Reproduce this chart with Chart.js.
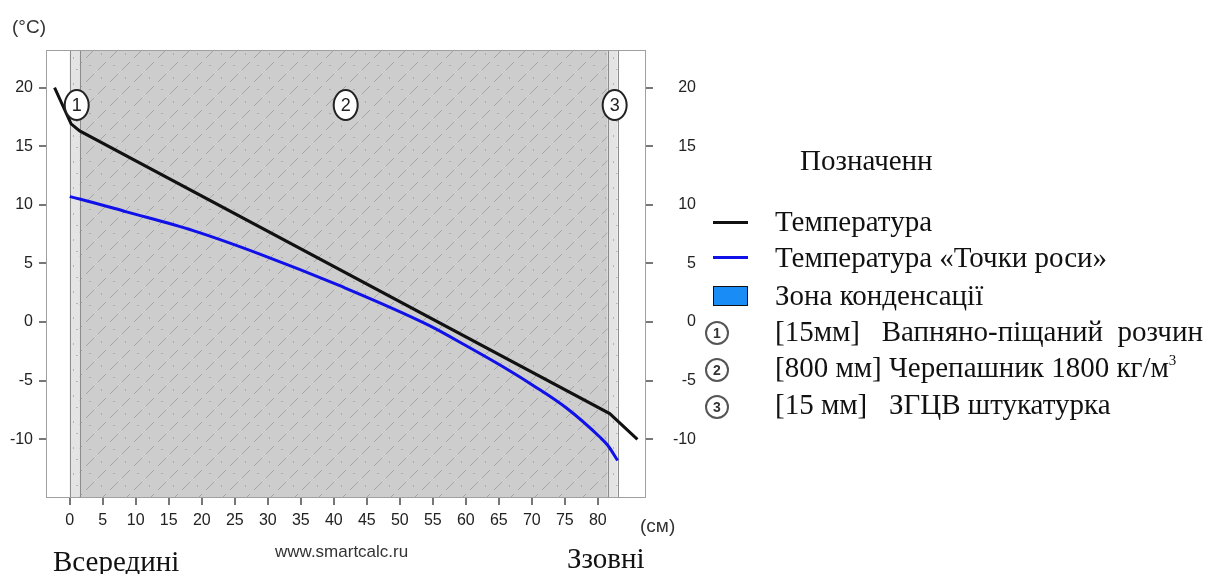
<!DOCTYPE html>
<html>
<head>
<meta charset="utf-8">
<script src="https://cdn.jsdelivr.net/npm/chart.js@4"></script>
<style>
  body { margin: 0; background: #fff; }
  #wrap { position: relative; width: 1217px; height: 574px; overflow: hidden; }
  #chart { position: absolute; left: 0; top: 0; }
  .t { position: absolute; white-space: pre; color: #111; }
  .serif { font-family: "Liberation Serif", "Times New Roman", serif; font-size: 29px; line-height: 30px; }
  .sans { font-family: Arial, "Liberation Sans", sans-serif; color: #333; }
  .sw { position: absolute; }
  .num { position: absolute; width: 20px; height: 20px; border: 2px solid #555; border-radius: 50%;
         font: bold 14px Arial, "Liberation Sans", sans-serif; color: #333; text-align: center; line-height: 20px; background: #fff; }
  sup { font-size: 15px; vertical-align: 12px; line-height: 0; }
</style>
</head>
<body>
<div id="wrap">
  <canvas id="chart" width="1217" height="574" style="width:1217px;height:574px"></canvas>

  <div class="t sans" style="left:12px;top:16px;font-size:19px;line-height:22px">(°C)</div>
  <div class="t sans" style="left:640px;top:515px;font-size:19px;line-height:22px">(см)</div>
  <div class="t sans" style="left:275px;top:542px;font-size:17px;line-height:20px">www.smartcalc.ru</div>
  <div class="t serif" style="left:53px;top:546px">Всередині</div>
  <div class="t serif" style="left:567px;top:543px">Ззовні</div>

  <div class="t serif" style="left:800px;top:145px">Позначенн</div>

  <div class="sw" style="left:713px;top:221px;width:35px;height:3px;background:#111"></div>
  <div class="t serif" style="left:775px;top:206px">Температура</div>
  <div class="sw" style="left:713px;top:256px;width:35px;height:3px;background:#1010e8"></div>
  <div class="t serif" style="left:775px;top:242px">Температура «Точки роси»</div>
  <div class="sw" style="left:713px;top:286px;width:33px;height:18px;background:#1a8cf5;border:1.5px solid #111"></div>
  <div class="t serif" style="left:775px;top:280px">Зона конденсації</div>

  <div class="num" style="left:705px;top:321px">1</div>
  <div class="t serif" style="left:775px;top:316px">[15мм]   Вапняно-піщаний  розчин</div>
  <div class="num" style="left:705px;top:358px">2</div>
  <div class="t serif" style="left:775px;top:352px">[800 мм] Черепашник 1800 кг/м<sup>3</sup></div>
  <div class="num" style="left:705px;top:395px">3</div>
  <div class="t serif" style="left:775px;top:389px">[15 мм]   ЗГЦВ штукатурка</div>
</div>

<script>
// axis ticks
const xTicks = [0, 5, 10, 15, 20, 25, 30, 35, 40, 45, 50, 55, 60, 65, 70, 75, 80];
const yTicks = [-10, -5, 0, 5, 10, 15, 20];

// wall layers (cm) and their numbers
const layerBounds = [0, 1.5, 81.5, 83];
const layerLabels = ['1', '2', '3'];

// temperature through the wall
const tempX = [-2.3, 0.2, 1.5, 81.8, 86];
const tempY = [20, 16.9, 16.3, -7.8, -10];

// dew point temperature
const dewX = [0, 1.5, 8.6, 18.7, 28.8, 40.9, 54.5, 60, 66.2, 70.2, 75.3, 80.3, 81.5, 83];
const dewY = [10.7, 10.5, 9.4, 7.8, 5.8, 3.1, -0.3, -2.0, -4.0, -5.4, -7.35, -9.8, -10.5, -11.8];

function toPoints(xs, ys) {
    return xs.map((x, i) => ({ x: x, y: ys[i] }));
}

// hatch for the main layer
function hatchPattern(ctx) {
    const c = document.createElement('canvas');
    c.width = 24; c.height = 24;
    const g = c.getContext('2d');
    g.fillStyle = '#cdcdcd';
    g.fillRect(0, 0, 24, 24);
    g.strokeStyle = '#a5a5a5';
    g.lineWidth = 1;
    g.beginPath();
    g.moveTo(2, 22); g.lineTo(10, 14);
    g.moveTo(14, 10); g.lineTo(22, 2);
    g.stroke();
    g.fillStyle = '#acacac';
    g.fillRect(17, 17, 2, 1);
    g.fillRect(5, 5, 1, 2);
    return ctx.createPattern(c, 'repeat');
}

// light pattern for the thin plaster layers
function dotPattern(ctx) {
    const c = document.createElement('canvas');
    c.width = 10; c.height = 26;
    const g = c.getContext('2d');
    g.fillStyle = '#e4e4e4';
    g.fillRect(0, 0, 10, 26);
    g.fillStyle = '#b5b5b5';
    g.fillRect(3, 5, 1, 2);
    g.fillRect(6, 17, 2, 1);
    return ctx.createPattern(c, 'repeat');
}

const wallPlugin = {
    id: 'wall',
    beforeDatasetsDraw(chart) {
        const ctx = chart.ctx;
        const a = chart.chartArea;
        const x = chart.scales.x;
        ctx.save();
        ctx.fillStyle = '#fff';
        ctx.fillRect(a.left, a.top, a.right - a.left, a.bottom - a.top);
        for (let i = 0; i < layerBounds.length - 1; i++) {
            const x0 = x.getPixelForValue(layerBounds[i]);
            const x1 = x.getPixelForValue(layerBounds[i + 1]);
            ctx.fillStyle = (i === 1) ? hatchPattern(ctx) : dotPattern(ctx);
            ctx.fillRect(x0, a.top, x1 - x0, a.bottom - a.top);
        }
        ctx.strokeStyle = '#8c8c8c';
        ctx.lineWidth = 1;
        layerBounds.forEach(b => {
            const px = Math.round(x.getPixelForValue(b)) + 0.5;
            ctx.beginPath();
            ctx.moveTo(px, a.top);
            ctx.lineTo(px, a.bottom);
            ctx.stroke();
        });
        ctx.strokeStyle = '#a0a0a0';
        ctx.strokeRect(a.left + 0.5, a.top + 0.5, a.right - a.left - 1, a.bottom - a.top - 1);
        ctx.restore();
    },
    afterDatasetsDraw(chart) {
        const ctx = chart.ctx;
        const x = chart.scales.x;
        const y = chart.scales.y;
        ctx.save();
        for (let i = 0; i < layerLabels.length; i++) {
            const cx = x.getPixelForValue((layerBounds[i] + layerBounds[i + 1]) / 2) + 2;
            const cy = y.getPixelForValue(18.5);
            ctx.beginPath();
            ctx.ellipse(cx, cy, 12, 15, 0, 0, Math.PI * 2);
            ctx.fillStyle = '#fff';
            ctx.fill();
            ctx.lineWidth = 2;
            ctx.strokeStyle = '#222';
            ctx.stroke();
            ctx.fillStyle = '#222';
            ctx.font = '18px Arial, "Liberation Sans", sans-serif';
            ctx.textAlign = 'center';
            ctx.textBaseline = 'middle';
            ctx.fillText(layerLabels[i], cx, cy + 1);
        }
        ctx.restore();
    }
};

const tickFont = { family: 'Arial, "Liberation Sans", sans-serif', size: 16 };

const ctx = document.getElementById('chart').getContext('2d');
const chart = new Chart(ctx, {
    type: 'line',
    data: {
        datasets: [{
            label: 'Температура',
            data: toPoints(tempX, tempY),
            borderColor: '#111',
            borderWidth: 3,
            pointRadius: 0,
            tension: 0,
        }, {
            label: 'Температура «Точки роси»',
            data: toPoints(dewX, dewY),
            borderColor: '#1010e8',
            borderWidth: 3,
            pointRadius: 0,
            cubicInterpolationMode: 'monotone',
        }]
    },
    options: {
        responsive: false,
        animation: false,
        layout: { padding: { left: 0, top: 50, right: 521, bottom: 36 } },
        plugins: { legend: { display: false }, tooltip: { enabled: false } },
        scales: {
            x: {
                type: 'linear',
                min: -3.6,
                max: 87.3,
                afterBuildTicks: s => { s.ticks = xTicks.map(v => ({ value: v })); },
                afterFit: s => { s.height = 40; },
                grid: { drawOnChartArea: false, tickLength: 7, color: '#777', lineWidth: 2 },
                border: { display: false },
                ticks: { padding: 6, color: '#222', font: tickFont, maxRotation: 0, callback: v => String(v) }
            },
            y: {
                position: 'left',
                min: -15,
                max: 23.2,
                afterBuildTicks: s => { s.ticks = yTicks.map(v => ({ value: v })); },
                afterFit: s => { s.width = 46; },
                grid: { drawOnChartArea: false, tickLength: 7, color: '#777', lineWidth: 2 },
                border: { display: false },
                ticks: { padding: 6, color: '#222', font: tickFont, callback: v => String(v) }
            },
            y2: {
                position: 'right',
                display: true,
                min: -15,
                max: 23.2,
                afterBuildTicks: s => { s.ticks = yTicks.map(v => ({ value: v })); },
                afterFit: s => { s.width = 50; },
                grid: { drawOnChartArea: false, tickLength: 7, color: '#777', lineWidth: 2 },
                border: { display: false },
                ticks: { padding: 5, crossAlign: 'far', color: '#222', font: tickFont, callback: v => String(v) }
            }
        }
    },
    plugins: [wallPlugin]
});
</script>
</body>
</html>
